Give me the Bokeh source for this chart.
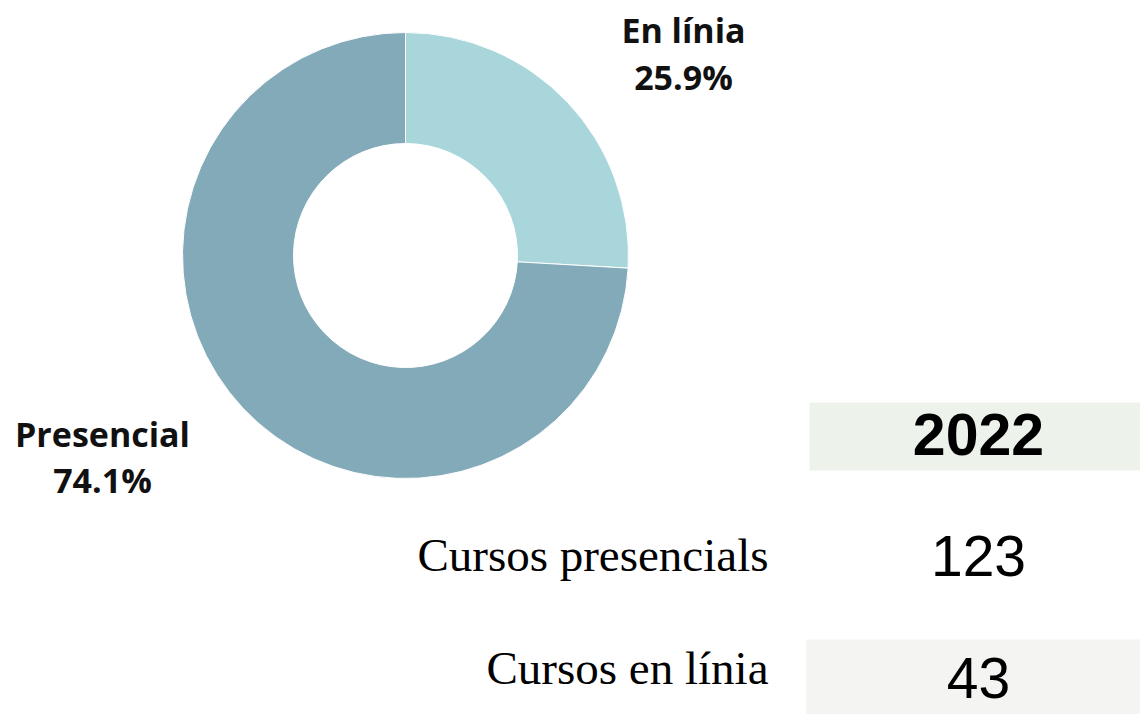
import math
from bokeh.plotting import figure
from bokeh.models import ColumnDataSource, Range1d
from bokeh.core.properties import value
from bokeh.embed import file_html
from bokeh.resources import INLINE

# ---- data ----
categories = ["En línia", "Presencial"]
counts = [43, 123]
slice_colors = ["#A8D6DA", "#82AAB8"]

year = "2022"
row_labels = ["Cursos presencials", "Cursos en línia"]
row_values = [123, 43]

W, H = 1140, 714
p = figure(width=W, height=H, output_backend="svg", toolbar_location=None,
           x_range=Range1d(0, W), y_range=Range1d(0, H), min_border=0)
p.axis.visible = False
p.grid.visible = False
p.outline_line_color = None
p.background_fill_color = "white"
p.border_fill_color = "white"

def Y(px, size=0):
    # baseline correction for the rendered alphabetic baseline
    return H - (px - 0.4 * size)

# ---- donut ----
total = sum(counts)
fracs = [c / total for c in counts]
starts, ends = [], []
acc = 0.0
for f in fracs:
    end = math.pi / 2 - 2 * math.pi * acc
    start = math.pi / 2 - 2 * math.pi * (acc + f)
    starts.append(start)
    ends.append(end)
    acc += f

cx, cy = 405, 255
src = ColumnDataSource(dict(x=[cx] * len(counts), y=[Y(cy)] * len(counts),
                            start=starts, end=ends, color=slice_colors))
p.annular_wedge(x="x", y="y", inner_radius=112, outer_radius=223,
                inner_radius_units="screen", outer_radius_units="screen",
                start_angle="start", end_angle="end", fill_color="color",
                line_color="white", line_width=1, source=src)

# donut labels
LS = 34
lab_pos = [(683, 43, 90), (102, 447, 493)]
for cat, f, (lx, b1, b2) in zip(categories, fracs, lab_pos):
    p.text(x=[lx], y=[Y(b1, LS)], text=[cat], text_align="center", text_baseline="alphabetic",
           text_font=value("Open Sans"), text_font_style="bold", text_font_size=f"{LS}px",
           text_color="#111111")
    p.text(x=[lx], y=[Y(b2, LS)], text=[f"{f*100:.1f}%"], text_align="center",
           text_baseline="alphabetic", text_font=value("Open Sans"), text_font_style="bold",
           text_font_size=f"{LS}px", text_color="#111111")

# ---- table ----
p.quad(left=[809], right=[1140], top=[Y(402)], bottom=[Y(470)],
       fill_color="#EDF3EA", line_color=None)
p.quad(left=[806], right=[1140], top=[Y(639)], bottom=[Y(714)],
       fill_color="#F4F4F2", line_color=None)

YS = 59
p.text(x=[978], y=[Y(458, YS)], text=[year], text_align="center", text_baseline="alphabetic",
       text_font=value("Liberation Sans"), text_font_style="bold", text_font_size=f"{YS}px",
       text_color="#000000")

RS, VS = 47, 57
row_base = [578, 700]
label_base = [573, 686]
for lbl, v, b, lb in zip(row_labels, row_values, row_base, label_base):
    p.text(x=[768], y=[Y(lb, RS)], text=[lbl], text_align="right", text_baseline="alphabetic",
           text_font=value("Liberation Serif"), text_font_size=f"{RS}px", text_color="#000000")
    p.text(x=[978], y=[Y(b, VS)], text=[str(v)], text_align="center", text_baseline="alphabetic",
           text_font=value("Liberation Sans"), text_font_size=f"{VS}px", text_color="#000000")

open("out.html", "w").write(file_html(p, INLINE))
